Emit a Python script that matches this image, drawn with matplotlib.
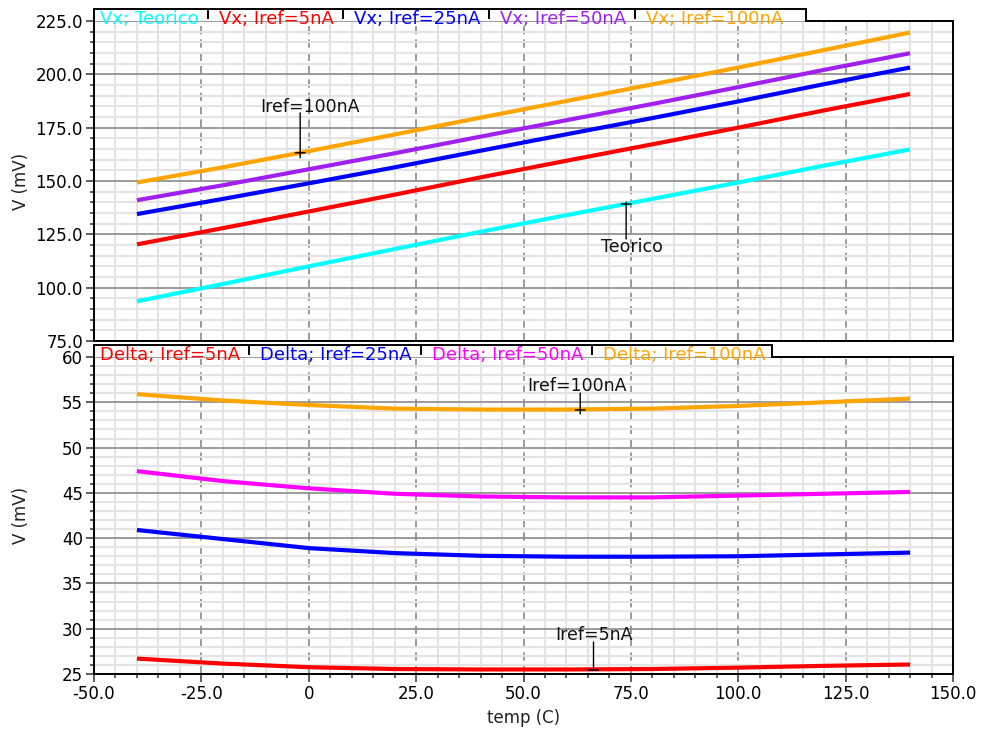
import numpy as np
import matplotlib
matplotlib.use('Agg')
import matplotlib.pyplot as plt
from matplotlib.ticker import MultipleLocator, FixedLocator
from matplotlib.patches import Polygon
from matplotlib.lines import Line2D

# --- data ---
temp = [-40, -20, 0, 20, 40, 60, 80, 100, 120, 140]
vx_teorico = [93.6, 101.7, 110.0, 118.1, 126.2, 134.0, 141.6, 149.3, 157.2, 164.8]
vx_5nA = [120.3, 127.9, 135.7, 143.6, 151.7, 159.5, 167.2, 175.0, 183.1, 190.8]
vx_25nA = [134.5, 141.6, 148.9, 156.4, 164.2, 171.9, 179.5, 187.3, 195.4, 203.2]
vx_50nA = [141.0, 148.0, 155.5, 163.0, 170.8, 178.5, 186.1, 194.0, 202.1, 209.9]
vx_100nA = [149.3, 156.4, 164.0, 171.8, 179.7, 187.5, 195.3, 203.2, 211.4, 219.6]
delta_5nA = [26.7, 26.15, 25.75, 25.55, 25.5, 25.5, 25.55, 25.7, 25.9, 26.05]
delta_25nA = [40.9, 39.9, 38.9, 38.35, 38.05, 37.95, 37.95, 38.0, 38.2, 38.4]
delta_50nA = [47.4, 46.3, 45.5, 44.9, 44.6, 44.5, 44.5, 44.7, 44.9, 45.1]
delta_100nA = [55.9, 55.2, 54.7, 54.3, 54.2, 54.2, 54.3, 54.6, 55.0, 55.4]
top_names = ['Vx; Teorico', 'Vx; Iref=5nA', 'Vx; Iref=25nA', 'Vx; Iref=50nA', 'Vx; Iref=100nA']
bot_names = ['Delta; Iref=5nA', 'Delta; Iref=25nA', 'Delta; Iref=50nA', 'Delta; Iref=100nA']
top_colors = ['#00ffff', '#ff0000', '#0000ff', '#a020f0', '#ffa500']
bot_colors = ['#ff0000', '#0000ff', '#ff00ff', '#ffa500']
xticks = [-50, -25, 0, 25, 50, 75, 100, 125, 150]
xticklabels = ['-50.0', '-25.0', '0', '25.0', '50.0', '75.0', '100.0', '125.0', '150.0']

W, H = 981, 731
FS = 12
fig = plt.figure(figsize=(W/100, H/100), dpi=100)
def fx(x): return x/W
def fy(y): return 1-y/H

ax1 = fig.add_axes([fx(94), fy(341), 859/W, 320/H])
ax2 = fig.add_axes([fx(94), fy(674), 859/W, 317/H])

def style(ax, ymin, ymax, ymaj, ymin_step):
    ax.set_xlim(-50, 150); ax.set_ylim(ymin, ymax)
    ax.xaxis.set_major_locator(FixedLocator(xticks)); ax.xaxis.set_minor_locator(MultipleLocator(5))
    ax.yaxis.set_major_locator(MultipleLocator(ymaj)); ax.yaxis.set_minor_locator(MultipleLocator(ymin_step))
    ax.set_axisbelow(True)
    ax.grid(which='minor', color='#e4e4e4', lw=1.5)
    ax.grid(which='major', axis='y', color='#8a8a8a', lw=1.2)
    ax.grid(which='major', axis='x', color='#8a8a8a', lw=1.2, ls=(0, (5, 3)))
    ax.tick_params(which='major', direction='out', length=6, width=1.1, labelsize=FS, pad=2, color='#333333')
    ax.tick_params(which='minor', direction='out', length=3, width=1.1, color='#333333')
    for s in ['left', 'right', 'bottom']:
        ax.spines[s].set_linewidth(1.4); ax.spines[s].set_color('black')
    ax.spines['top'].set_visible(False)
    ax.set_ylabel('V (mV)', fontsize=FS, labelpad=6, color='#222222')
    ax.yaxis.set_label_coords(-0.074, 0.5)

style(ax1, 75, 225, 25, 5)
style(ax2, 25, 60, 5, 1)
ax1.yaxis.set_major_formatter(lambda v, p: f'{v:.1f}')
ax2.yaxis.set_major_formatter(lambda v, p: f'{v:.0f}')
ax1.tick_params(axis='x', which='both', length=0, labelbottom=False)
ax2.set_xticklabels(xticklabels)
ax2.set_xlabel('temp (C)', fontsize=FS, labelpad=4, color='#222222')

for ys, c in zip([vx_teorico, vx_5nA, vx_25nA, vx_50nA, vx_100nA], top_colors):
    ax1.plot(temp, ys, color=c, lw=3, solid_capstyle='butt', zorder=3)
for ys, c in zip([delta_5nA, delta_25nA, delta_50nA, delta_100nA], bot_colors):
    ax2.plot(temp, ys, color=c, lw=3, solid_capstyle='butt', zorder=3)

# marker annotations: point, line up/down (px), text offset (px)
def mark(ax, x, y, up, down, text, tdx, tdy):
    for dx, dy in [(0, up), (0, -down), (-5, 0), (5, 0)]:
        ax.annotate('', xy=(x, y), xytext=(dx, dy), textcoords='offset pixels',
                    arrowprops=dict(arrowstyle='-', color='black', lw=1, shrinkA=0, shrinkB=0), zorder=5)
    ax.annotate(text, xy=(x, y), xytext=(tdx, tdy), textcoords='offset pixels',
                ha='center', va='center', fontsize=FS+0.5, color='#111111', zorder=5)

mark(ax1, -2.0, 163.2, 40, 5, 'Iref=100nA', 10, 46)
mark(ax1, 73.9, 139.2, 2, 35, 'Teorico', 6, -43)
mark(ax2, 63.2, 54.15, 17, 4, 'Iref=100nA', -3, 24)
mark(ax2, 66.3, 25.44, 28, 0, 'Iref=5nA', 0, 35)

# legend tabs drawn above each axes
def tab(names, colors, ax_top, tab_top, tab_end):
    poly = Polygon([(fx(94), fy(ax_top)), (fx(94), fy(tab_top)), (fx(tab_end), fy(tab_top)),
                    (fx(tab_end), fy(ax_top))], closed=False, facecolor='white', edgecolor='black',
                   lw=1.4, transform=fig.transFigure, zorder=6)
    fig.add_artist(poly)
    fig.add_artist(Line2D([fx(tab_end), fx(953)], [fy(ax_top), fy(ax_top)], color='black', lw=1.4,
                          transform=fig.transFigure, zorder=6))
    r = fig.canvas.get_renderer()
    x = 100
    for i, (n, c) in enumerate(zip(names, colors)):
        t = fig.text(fx(x), fy(ax_top + 3), n, color=c, fontsize=13, va='baseline', ha='left', zorder=7)
        w = t.get_window_extent(r).width
        x += w + 9
        if i < len(names) - 1:
            fig.add_artist(Line2D([fx(x), fx(x)], [fy(ax_top - 3), fy(ax_top - 10)], color='black', lw=1.4,
                                  transform=fig.transFigure, zorder=7))
            x += 11

tab(top_names, top_colors, 21, 9, 806)
tab(bot_names, bot_colors, 357, 345, 772)

fig.savefig('out.png', dpi=100)
